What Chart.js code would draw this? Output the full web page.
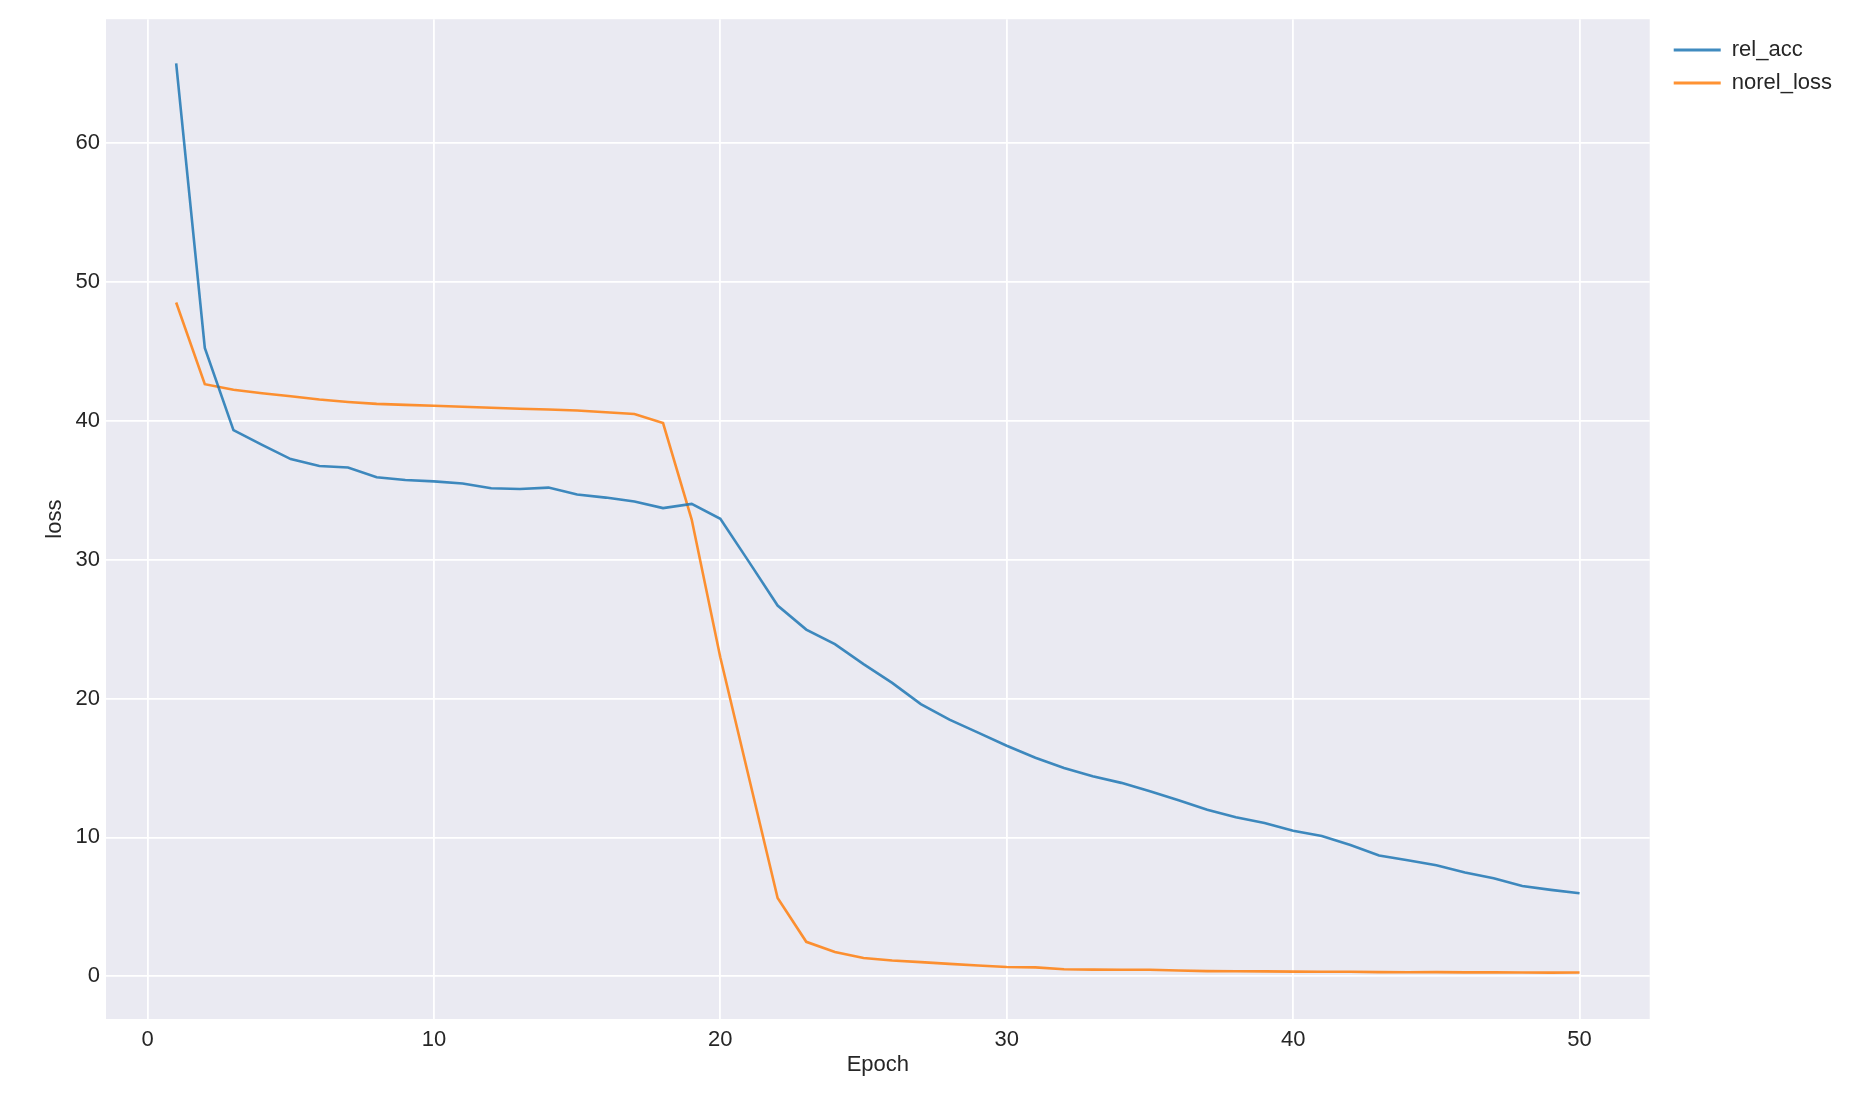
<!DOCTYPE html>
<html>
<head>
<meta charset="utf-8">
<title>loss per epoch</title>
<script src="https://cdn.jsdelivr.net/npm/chart.js@4/dist/chart.umd.min.js"></script>
<style>
  html, body { margin: 0; padding: 0; background: #ffffff; }
  #wrap { width: 1876px; height: 1112px; position: relative; }
</style>
</head>
<body>
<div id="wrap"><canvas id="lossChart"></canvas></div>
<script>
// Epochs on the x axis
const epochs = [1, 2, 3, 4, 5, 6, 7, 8, 9, 10, 11, 12, 13, 14, 15, 16, 17, 18, 19, 20,
  21, 22, 23, 24, 25, 26, 27, 28, 29, 30, 31, 32, 33, 34, 35, 36, 37, 38, 39, 40,
  41, 42, 43, 44, 45, 46, 47, 48, 49, 50];

// Series values
const relAcc = [65.75, 45.26, 39.34, 38.27, 37.25, 36.75, 36.65, 35.95, 35.75, 35.65,
  35.5, 35.15, 35.1, 35.2, 34.7, 34.48, 34.2, 33.72, 34.02, 32.95,
  29.85, 26.7, 24.97, 23.92, 22.48, 21.13, 19.6, 18.48, 17.55, 16.6,
  15.74, 15.0, 14.4, 13.93, 13.32, 12.67, 12.0, 11.45, 11.04, 10.48,
  10.1, 9.45, 8.7, 8.35, 8.0, 7.47, 7.06, 6.5, 6.22, 5.98];

const norelLoss = [48.53, 42.65, 42.25, 42.0, 41.78, 41.54, 41.37, 41.23, 41.16, 41.09,
  41.02, 40.95, 40.88, 40.82, 40.75, 40.63, 40.5, 39.85, 32.9, 22.96,
  14.3, 5.63, 2.48, 1.75, 1.31, 1.13, 1.02, 0.89, 0.77, 0.67,
  0.64, 0.5, 0.48, 0.47, 0.47, 0.41, 0.37, 0.36, 0.35, 0.33,
  0.32, 0.32, 0.3, 0.29, 0.3, 0.28, 0.28, 0.27, 0.26, 0.27];

// Tick labels
const xTicks = [0, 10, 20, 30, 40, 50];
const yTicks = [0, 10, 20, 30, 40, 50, 60];

// Axis limits (matplotlib style 5% margins)
const xLimits = [-1.45, 52.45];
const yLimits = [-3.08, 68.94];

const textColor = '#262626';
const fontFamily = '"Liberation Sans", Arial, sans-serif';

// Fill the plot area with the seaborn darkgrid background
const plotBackground = {
  id: 'plotBackground',
  beforeDraw(chart) {
    const { ctx, chartArea } = chart;
    ctx.save();
    ctx.fillStyle = '#eaeaf2';
    ctx.fillRect(chartArea.left, chartArea.top, chartArea.right - chartArea.left, chartArea.bottom - chartArea.top);
    ctx.restore();
  }
};

// Move the legend a little away from the plot, like matplotlib's bbox_to_anchor
const legendOffset = {
  id: 'legendOffset',
  afterLayout(chart) {
    if (chart.legend) {
      chart.legend.left += 13;
      chart.legend.right += 13;
      chart.legend.top += 11;
      chart.legend.bottom += 11;
    }
  }
};

function toPoints(values) {
  return epochs.map((e, i) => ({ x: e, y: values[i] }));
}

document.addEventListener('DOMContentLoaded', function () {
  const ctx = document.getElementById('lossChart');

  new Chart(ctx, {
    type: 'line',
    data: {
      datasets: [{
        label: 'rel_acc',
        data: toPoints(relAcc),
        borderColor: 'rgba(31, 119, 180, 0.85)',
        backgroundColor: 'rgba(31, 119, 180, 0.85)',
        borderWidth: 2.6,
        pointRadius: 0,
        tension: 0
      }, {
        label: 'norel_loss',
        data: toPoints(norelLoss),
        borderColor: 'rgba(255, 127, 14, 0.85)',
        backgroundColor: 'rgba(255, 127, 14, 0.85)',
        borderWidth: 2.6,
        pointRadius: 0,
        tension: 0
      }]
    },
    options: {
      responsive: true,
      maintainAspectRatio: false,
      animation: false,
      layout: {
        padding: { top: 17, left: 0, bottom: 0, right: 47 }
      },
      plugins: {
        tooltip: { enabled: false },
        legend: {
          position: 'right',
          align: 'start',
          labels: {
            color: textColor,
            font: { family: fontFamily, size: 22 },
            boxWidth: 47,
            boxHeight: 3,
            padding: 11,
            generateLabels: function (chart) {
              return chart.data.datasets.map((ds, i) => ({
                text: ds.label,
                fillStyle: ds.borderColor,
                strokeStyle: ds.borderColor,
                lineWidth: 0,
                hidden: false,
                datasetIndex: i,
                fontColor: textColor
              }));
            }
          }
        }
      },
      scales: {
        x: {
          type: 'linear',
          min: xLimits[0],
          max: xLimits[1],
          afterBuildTicks: (axis) => { axis.ticks = xTicks.map(v => ({ value: v })); },
          afterFit: (axis) => { axis.height = 93; },
          grid: { color: '#ffffff', lineWidth: 1.8, drawTicks: false },
          border: { display: false },
          ticks: {
            color: textColor,
            font: { family: fontFamily, size: 22 },
            padding: 8,
            maxRotation: 0
          },
          title: {
            display: true,
            text: 'Epoch',
            color: textColor,
            font: { family: fontFamily, size: 22 },
            padding: { top: 0, bottom: 34 }
          }
        },
        y: {
          type: 'linear',
          min: yLimits[0],
          max: yLimits[1],
          afterBuildTicks: (axis) => { axis.ticks = yTicks.map(v => ({ value: v })); },
          afterFit: (axis) => { axis.width = 106; },
          grid: { color: '#ffffff', lineWidth: 1.8, drawTicks: false },
          border: { display: false },
          ticks: {
            color: textColor,
            font: { family: fontFamily, size: 22 },
            padding: 6
          },
          title: {
            display: true,
            text: 'loss',
            color: textColor,
            font: { family: fontFamily, size: 22 },
            padding: { top: 42, bottom: 0 }
          }
        }
      }
    },
    plugins: [plotBackground, legendOffset]
  });
});
</script>
</body>
</html>
